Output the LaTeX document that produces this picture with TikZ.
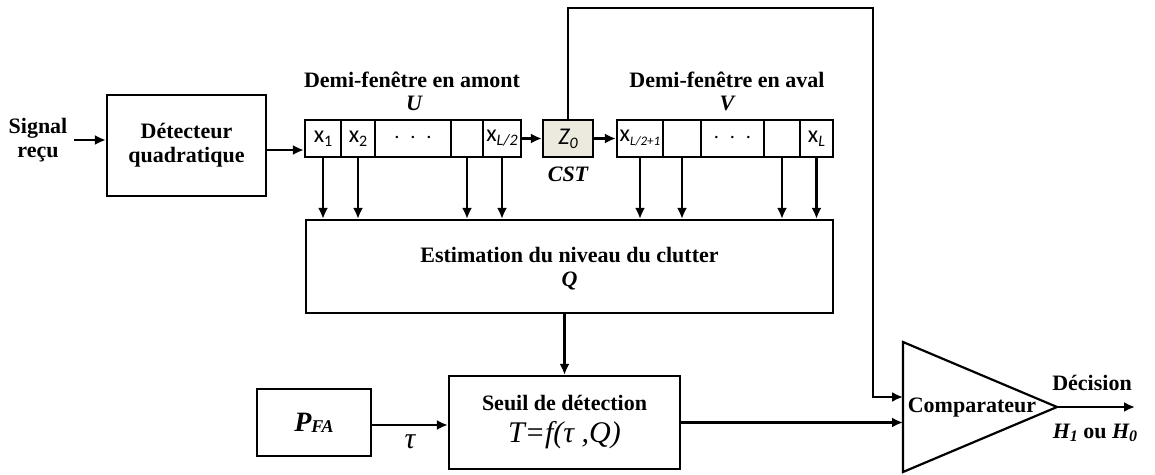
\documentclass[tikz,border=0pt]{standalone}
\usepackage{fontspec}
\setmainfont{Liberation Serif}
\newfontfamily\cellfont{Carlito}
\usetikzlibrary{arrows.meta,positioning}

\definecolor{cstfill}{RGB}{236,233,222}
\newcommand{\subx}[1]{\raisebox{-0.35ex}{\fontsize{8}{8}\selectfont #1}}

\begin{document}
\begin{tikzpicture}[
x=0.5pt, y=-0.5pt,
font=\fontsize{11}{12}\selectfont\bfseries,
line width=1.1pt,
>={Latex[length=5.5pt,width=5pt]},
block/.style={draw, line width=1.1pt, inner sep=0pt, align=center},
cell/.style={draw, line width=1.1pt, inner sep=0pt, minimum height=18.5pt,
  font=\cellfont\mdseries\upshape\fontsize{12}{13}\selectfont},
lbl/.style={inner sep=0pt, align=center}
]

\useasboundingbox (0,0) rectangle (1155,475);

%%%%%%%%%%%%%%%%%%%%%%%%%%%%%%%%%%%%%%%%%%%%%%%%%%%%%%
% INPUT AND SQUARE-LAW DETECTOR
%%%%%%%%%%%%%%%%%%%%%%%%%%%%%%%%%%%%%%%%%%%%%%%%%%%%%%

\node[lbl, inner sep=3pt] (signal) at (38,140) {Signal\\reçu};

\node[
block,
minimum width=79.5pt,
minimum height=50.5pt
] (det) at (186.5,145.5)
{Détecteur\\quadratique};

%%%%%%%%%%%%%%%%%%%%%%%%%%%%%%%%%%%%%%%%%%%%%%%%%%%%%%
% UPSTREAM HALF-WINDOW U
%%%%%%%%%%%%%%%%%%%%%%%%%%%%%%%%%%%%%%%%%%%%%%%%%%%%%%

\node[cell, minimum width=18pt] (u1) at (323,138.5) {x\subx{1}};
\node[cell, minimum width=17pt] (u2) at (358,138.5) {x\subx{2}};
\node[cell, minimum width=38pt] (u3) at (413,138.5) {$\cdot\,\cdot\,\cdot$};
\node[cell, minimum width=16pt] (u4) at (467,138.5) {};
\node[cell, minimum width=19pt] (u5) at (502,138.5) {x\subx{\itshape L/2}};

\node[lbl] (uhead) at (412,80) {Demi-fenêtre en amont};
\node[lbl] (uname) at (414,103) {\itshape U};

%%%%%%%%%%%%%%%%%%%%%%%%%%%%%%%%%%%%%%%%%%%%%%%%%%%%%%
% CELL UNDER TEST
%%%%%%%%%%%%%%%%%%%%%%%%%%%%%%%%%%%%%%%%%%%%%%%%%%%%%%

\node[
cell,
fill=cstfill,
minimum width=25pt
] (cst) at (568,138.5)
{\itshape Z\subx{0}};

\node[lbl] (cstname)
at ([yshift=-8pt]cst.south)
{\itshape CST};

%%%%%%%%%%%%%%%%%%%%%%%%%%%%%%%%%%%%%%%%%%%%%%%%%%%%%%
% DOWNSTREAM HALF-WINDOW V
%%%%%%%%%%%%%%%%%%%%%%%%%%%%%%%%%%%%%%%%%%%%%%%%%%%%%%

\node[cell, minimum width=23pt] (v1) at (640,138.5)
{x\raisebox{-0.35ex}{\fontsize{6.5}{7}\selectfont\itshape L/2+1}};
\node[cell, minimum width=19pt] (v2) at (682,138.5) {};
\node[cell, minimum width=31.5pt] (v3) at (732.5,138.5) {$\cdot\,\cdot\,\cdot$};
\node[cell, minimum width=18pt] (v4) at (782,138.5) {};
\node[cell, minimum width=16.5pt] (v5) at (816.5,138.5) {x\subx{\itshape L}};

\node[lbl] (vhead) at (727,80) {Demi-fenêtre en aval};
\node[lbl] (vname) at (727,103) {\itshape V};

%%%%%%%%%%%%%%%%%%%%%%%%%%%%%%%%%%%%%%%%%%%%%%%%%%%%%%
% CLUTTER ESTIMATION AND THRESHOLD
%%%%%%%%%%%%%%%%%%%%%%%%%%%%%%%%%%%%%%%%%%%%%%%%%%%%%%

\node[
block,
minimum width=263.5pt,
minimum height=46.5pt,
text depth=-2pt
] (est) at (569.5,266.5)
{Estimation du niveau du clutter\\\itshape Q};

\node[
block,
minimum width=115.5pt,
minimum height=46.5pt
] (seuil) at (564.5,422.5)
{Seuil de détection\\[4pt]
{\fontsize{15}{15}\selectfont\mdseries\itshape T=f(τ ,Q)}};

\node[
block,
minimum width=57pt,
minimum height=33.5pt
] (pfa) at (314,422.5)
{\itshape{\fontsize{14}{14}\selectfont P}\raisebox{-0.1ex}{\fontsize{9}{9}\selectfont FA}};

%%%%%%%%%%%%%%%%%%%%%%%%%%%%%%%%%%%%%%%%%%%%%%%%%%%%%%
% COMPARATOR
%%%%%%%%%%%%%%%%%%%%%%%%%%%%%%%%%%%%%%%%%%%%%%%%%%%%%%

\coordinate (ctop) at (903,342);
\coordinate (cbot) at (903,472);
\coordinate (ctip) at (1057,407);
\draw (ctop) -- (ctip) -- (cbot) -- cycle;

\node[lbl] (comp) at (972,408) {Comparateur};

\coordinate (cin1) at (903,397);
\coordinate (fbl) at (568,8);
\coordinate (fbr) at (873,8);
\coordinate (dout) at (1135,407);

\node[lbl] (decision) at (1092,383) {Décision};
\node[lbl] (hyp) at (1095,433) {\itshape H\subx{1}\upshape{} ou \itshape H\subx{0}};

%%%%%%%%%%%%%%%%%%%%%%%%%%%%%%%%%%%%%%%%%%%%%%%%%%%%%%
% CONNECTIONS
%%%%%%%%%%%%%%%%%%%%%%%%%%%%%%%%%%%%%%%%%%%%%%%%%%%%%%

\draw[->] (signal.east) -- (signal.east -| det.west);
\draw[->] ([yshift=-2.25pt]det.east) -- ([yshift=-2.25pt]det.east -| u1.west);
\draw[->] (u5.east) -- (cst.west);
\draw[->] (cst.east) -- (v1.west);

\foreach \c in {u1,u2,u4,u5,v1,v2,v4,v5}
  \draw[->] (\c.south) -- (\c.south |- est.north);

\draw[->] (seuil.north |- est.south) -- (seuil.north);

\draw[->] ([yshift=-1.25pt]pfa.east) -- ([yshift=-1.25pt]pfa.east -| seuil.west)
  node[midway, below=1pt, font=\fontsize{15}{15}\selectfont\mdseries\itshape] (tau) {τ};

\draw[->] (seuil.east) -- (seuil.east -| ctop);

\draw[->] (cst.north) -- (fbl) -- (fbr) -- (fbr |- cin1) -- (cin1);

\draw[->] (ctip) -- (dout);

\end{tikzpicture}
\end{document}
